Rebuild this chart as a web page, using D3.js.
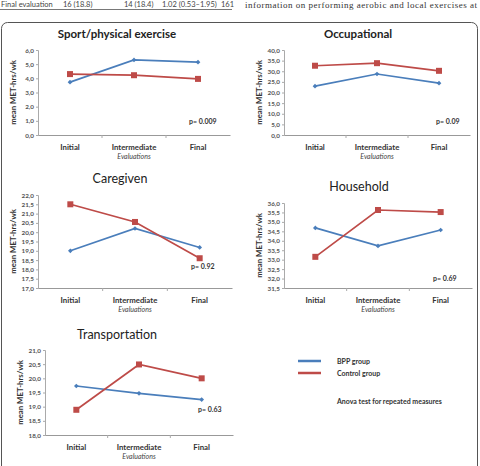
<!DOCTYPE html>
<html>
<head>
<meta charset="utf-8">
<script src="https://cdn.jsdelivr.net/npm/d3@7"></script>
<style>
  body { margin: 0; background: #fff; }
  svg { display: block; }
  text { font-family: Lato, "Open Sans", sans-serif; }
</style>
</head>
<body>
<div id="chart"></div>
<script>
// chart data
var evaluations = ["Initial", "Intermediate", "Final"];

var sportBPP = [3.73, 5.3, 5.14];
var sportControl = [4.3, 4.22, 3.96];
var sportTicks = [0, 1, 2, 3, 4, 5, 6];

var occupBPP = [23.0, 28.7, 24.4];
var occupControl = [32.6, 33.8, 30.2];
var occupTicks = [0, 5, 10, 15, 20, 25, 30, 35, 40];

var careBPP = [19.0, 20.2, 19.18];
var careControl = [21.5, 20.55, 18.6];
var careTicks = [17, 17.5, 18, 18.5, 19, 19.5, 20, 20.5, 21, 21.5, 22];

var houseBPP = [34.68, 33.73, 34.57];
var houseControl = [33.15, 35.63, 35.52];
var houseTicks = [31.5, 32, 32.5, 33, 33.5, 34, 34.5, 35, 35.5, 36];

var transBPP = [19.73, 19.47, 19.25];
var transControl = [18.89, 20.49, 20.0];
var transTicks = [18, 18.5, 19, 19.5, 20, 20.5, 21];

var pValues = ["p= 0.009", "p= 0.09", "p= 0.92", "p= 0.69", "p= 0.63"];
var seriesNames = ["BPP group", "Control group"];

var blue = "#4a7ebb", red = "#be4b48";
var fmt = function(v) { return d3.format(".1f")(v).replace(".", ","); };

var svg = d3.select("#chart").append("svg")
    .attr("width", 480)
    .attr("height", 466);

// page bits above the figure
svg.append("line")
    .attr("x1", 0).attr("x2", 232).attr("y1", 9.5).attr("y2", 9.5)
    .style("stroke", "#555").style("stroke-width", 0.8);
var head = svg.append("g").style("font-size", "7.5px").style("fill", "#444");
head.append("text").attr("x", 1).attr("y", 7).text("Final evaluation");
head.append("text").attr("x", 63).attr("y", 7).text("16 (18.8)");
head.append("text").attr("x", 124).attr("y", 7).text("14 (18.4)");
head.append("text").attr("x", 162).attr("y", 7).text("1.02 (0.53–1.95)");
head.append("text").attr("x", 221).attr("y", 7).text("161");
svg.append("text")
    .attr("x", 245).attr("y", 8)
    .attr("textLength", 232)
    .style("font-family", "'Liberation Serif', serif")
    .style("font-size", "9px")
    .style("fill", "#333")
    .text("information on performing aerobic and local exercises at");

// figure frame
svg.append("rect")
    .attr("x", 1.5).attr("y", 22.5)
    .attr("width", 476).attr("height", 480)
    .attr("rx", 6)
    .style("fill", "none")
    .style("stroke", "#555")
    .style("stroke-width", 1);

var panels = [
  {title: "Sport/physical exercise", bold: true, bpp: sportBPP, ctl: sportControl, ticks: sportTicks,
   x0: 38, x1: 230, yTop: 50, yBot: 135, tx: 117, ty: 38, p: pValues[0], px: 189, py: 124},
  {title: "Occupational", bold: true, bpp: occupBPP, ctl: occupControl, ticks: occupTicks,
   x0: 284, x1: 470, yTop: 50, yBot: 135, tx: 358, ty: 38, p: pValues[1], px: 436, py: 124},
  {title: "Caregiven", bold: false, bpp: careBPP, ctl: careControl, ticks: careTicks,
   x0: 38, x1: 232, yTop: 195, yBot: 288, tx: 120, ty: 183, p: pValues[2], px: 191, py: 269},
  {title: "Household", bold: false, bpp: houseBPP, ctl: houseControl, ticks: houseTicks,
   x0: 284, x1: 472, yTop: 203, yBot: 288, tx: 359, ty: 191, p: pValues[3], px: 433, py: 281},
  {title: "Transportation", bold: false, bpp: transBPP, ctl: transControl, ticks: transTicks,
   x0: 45, x1: 233, yTop: 350, yBot: 435, tx: 117, ty: 339, p: pValues[4], px: 198, py: 412}
];

panels.forEach(function(pn) {
  var g = svg.append("g");

  var x = d3.scaleBand().domain(evaluations).range([pn.x0, pn.x1]);
  var y = d3.scaleLinear()
      .domain([pn.ticks[0], pn.ticks[pn.ticks.length - 1]])
      .range([pn.yBot, pn.yTop]);

  // title
  g.append("text")
      .attr("x", pn.tx).attr("y", pn.ty)
      .attr("text-anchor", "middle")
      .style("font-size", pn.bold ? "11.5px" : "12.5px")
      .style("font-weight", pn.bold ? "bold" : "normal")
      .style("fill", "#222")
      .text(pn.title);

  // y axis
  var ya = g.append("g")
      .attr("transform", "translate(" + pn.x0 + ",0)")
      .call(d3.axisLeft(y).tickValues(pn.ticks).tickFormat(fmt).tickSize(2).tickPadding(2));
  ya.select(".domain").style("stroke", "#aaa");
  ya.selectAll(".tick line").style("stroke", "#aaa");
  ya.selectAll("text")
      .style("font-size", "6.3px")
      .style("font-weight", "bold")
      .style("fill", "#555");

  // x axis
  var xa = g.append("g")
      .attr("transform", "translate(0," + pn.yBot + ")")
      .call(d3.axisBottom(x).tickSize(0).tickPadding(9));
  xa.select(".domain").style("stroke", "#999");
  xa.selectAll("text")
      .style("font-size", "7.8px")
      .style("font-weight", "bold")
      .style("fill", "#333");
  // small ticks between categories
  g.selectAll(".sep")
      .data(evaluations.slice(1))
    .enter().append("line")
      .attr("x1", function(d) { return x(d); })
      .attr("x2", function(d) { return x(d); })
      .attr("y1", pn.yBot).attr("y2", pn.yBot + 3)
      .style("stroke", "#aaa");

  g.append("text")
      .attr("x", (pn.x0 + pn.x1) / 2)
      .attr("y", pn.yBot + 24)
      .attr("text-anchor", "middle")
      .style("font-size", "7px")
      .style("font-style", "italic")
      .style("fill", "#444")
      .text("Evaluations");

  // y label
  g.append("text")
      .attr("transform", "translate(" + (pn.x0 - 22) + "," + ((pn.yTop + pn.yBot) / 2) + ") rotate(-90)")
      .attr("text-anchor", "middle")
      .style("font-size", "7.8px")
      .style("font-weight", "bold")
      .style("fill", "#333")
      .text("mean MET-hrs/wk");

  var line = d3.line()
      .x(function(d, i) { return x(evaluations[i]) + x.bandwidth() / 2; })
      .y(function(d) { return y(d); });

  // BPP series
  g.append("path").datum(pn.bpp)
      .attr("d", line)
      .style("fill", "none").style("stroke", blue).style("stroke-width", 1.7);
  g.selectAll(".dia")
      .data(pn.bpp)
    .enter().append("path")
      .attr("d", d3.symbol().type(d3.symbolDiamond2).size(14))
      .attr("transform", function(d, i) {
        return "translate(" + (x(evaluations[i]) + x.bandwidth() / 2) + "," + y(d) + ")";
      })
      .style("fill", blue);

  // control series
  g.append("path").datum(pn.ctl)
      .attr("d", line)
      .style("fill", "none").style("stroke", red).style("stroke-width", 1.7);
  g.selectAll(".sq")
      .data(pn.ctl)
    .enter().append("rect")
      .attr("x", function(d, i) { return x(evaluations[i]) + x.bandwidth() / 2 - 3; })
      .attr("y", function(d) { return y(d) - 3; })
      .attr("width", 6).attr("height", 6)
      .style("fill", red);

  // p value
  g.append("text")
      .attr("x", pn.px).attr("y", pn.py)
      .style("font-size", "7px")
      .style("font-weight", "bold")
      .style("fill", "#333")
      .text(pn.p);
});

// legend
var leg = svg.append("g");
[blue, red].forEach(function(c, i) {
  leg.append("line")
      .attr("x1", 298).attr("x2", 321)
      .attr("y1", 361 + i * 12).attr("y2", 361 + i * 12)
      .style("stroke", c).style("stroke-width", 2.5);
  leg.append("text")
      .attr("x", 337).attr("y", 363.5 + i * 12)
      .style("font-size", "7px")
      .style("font-weight", "bold")
      .style("fill", "#333")
      .text(seriesNames[i]);
});
leg.append("text")
    .attr("x", 337).attr("y", 403.5)
    .style("font-size", "7px")
    .style("font-weight", "bold")
    .style("fill", "#333")
    .text("Anova test for repeated measures");
</script>
</body>
</html>
